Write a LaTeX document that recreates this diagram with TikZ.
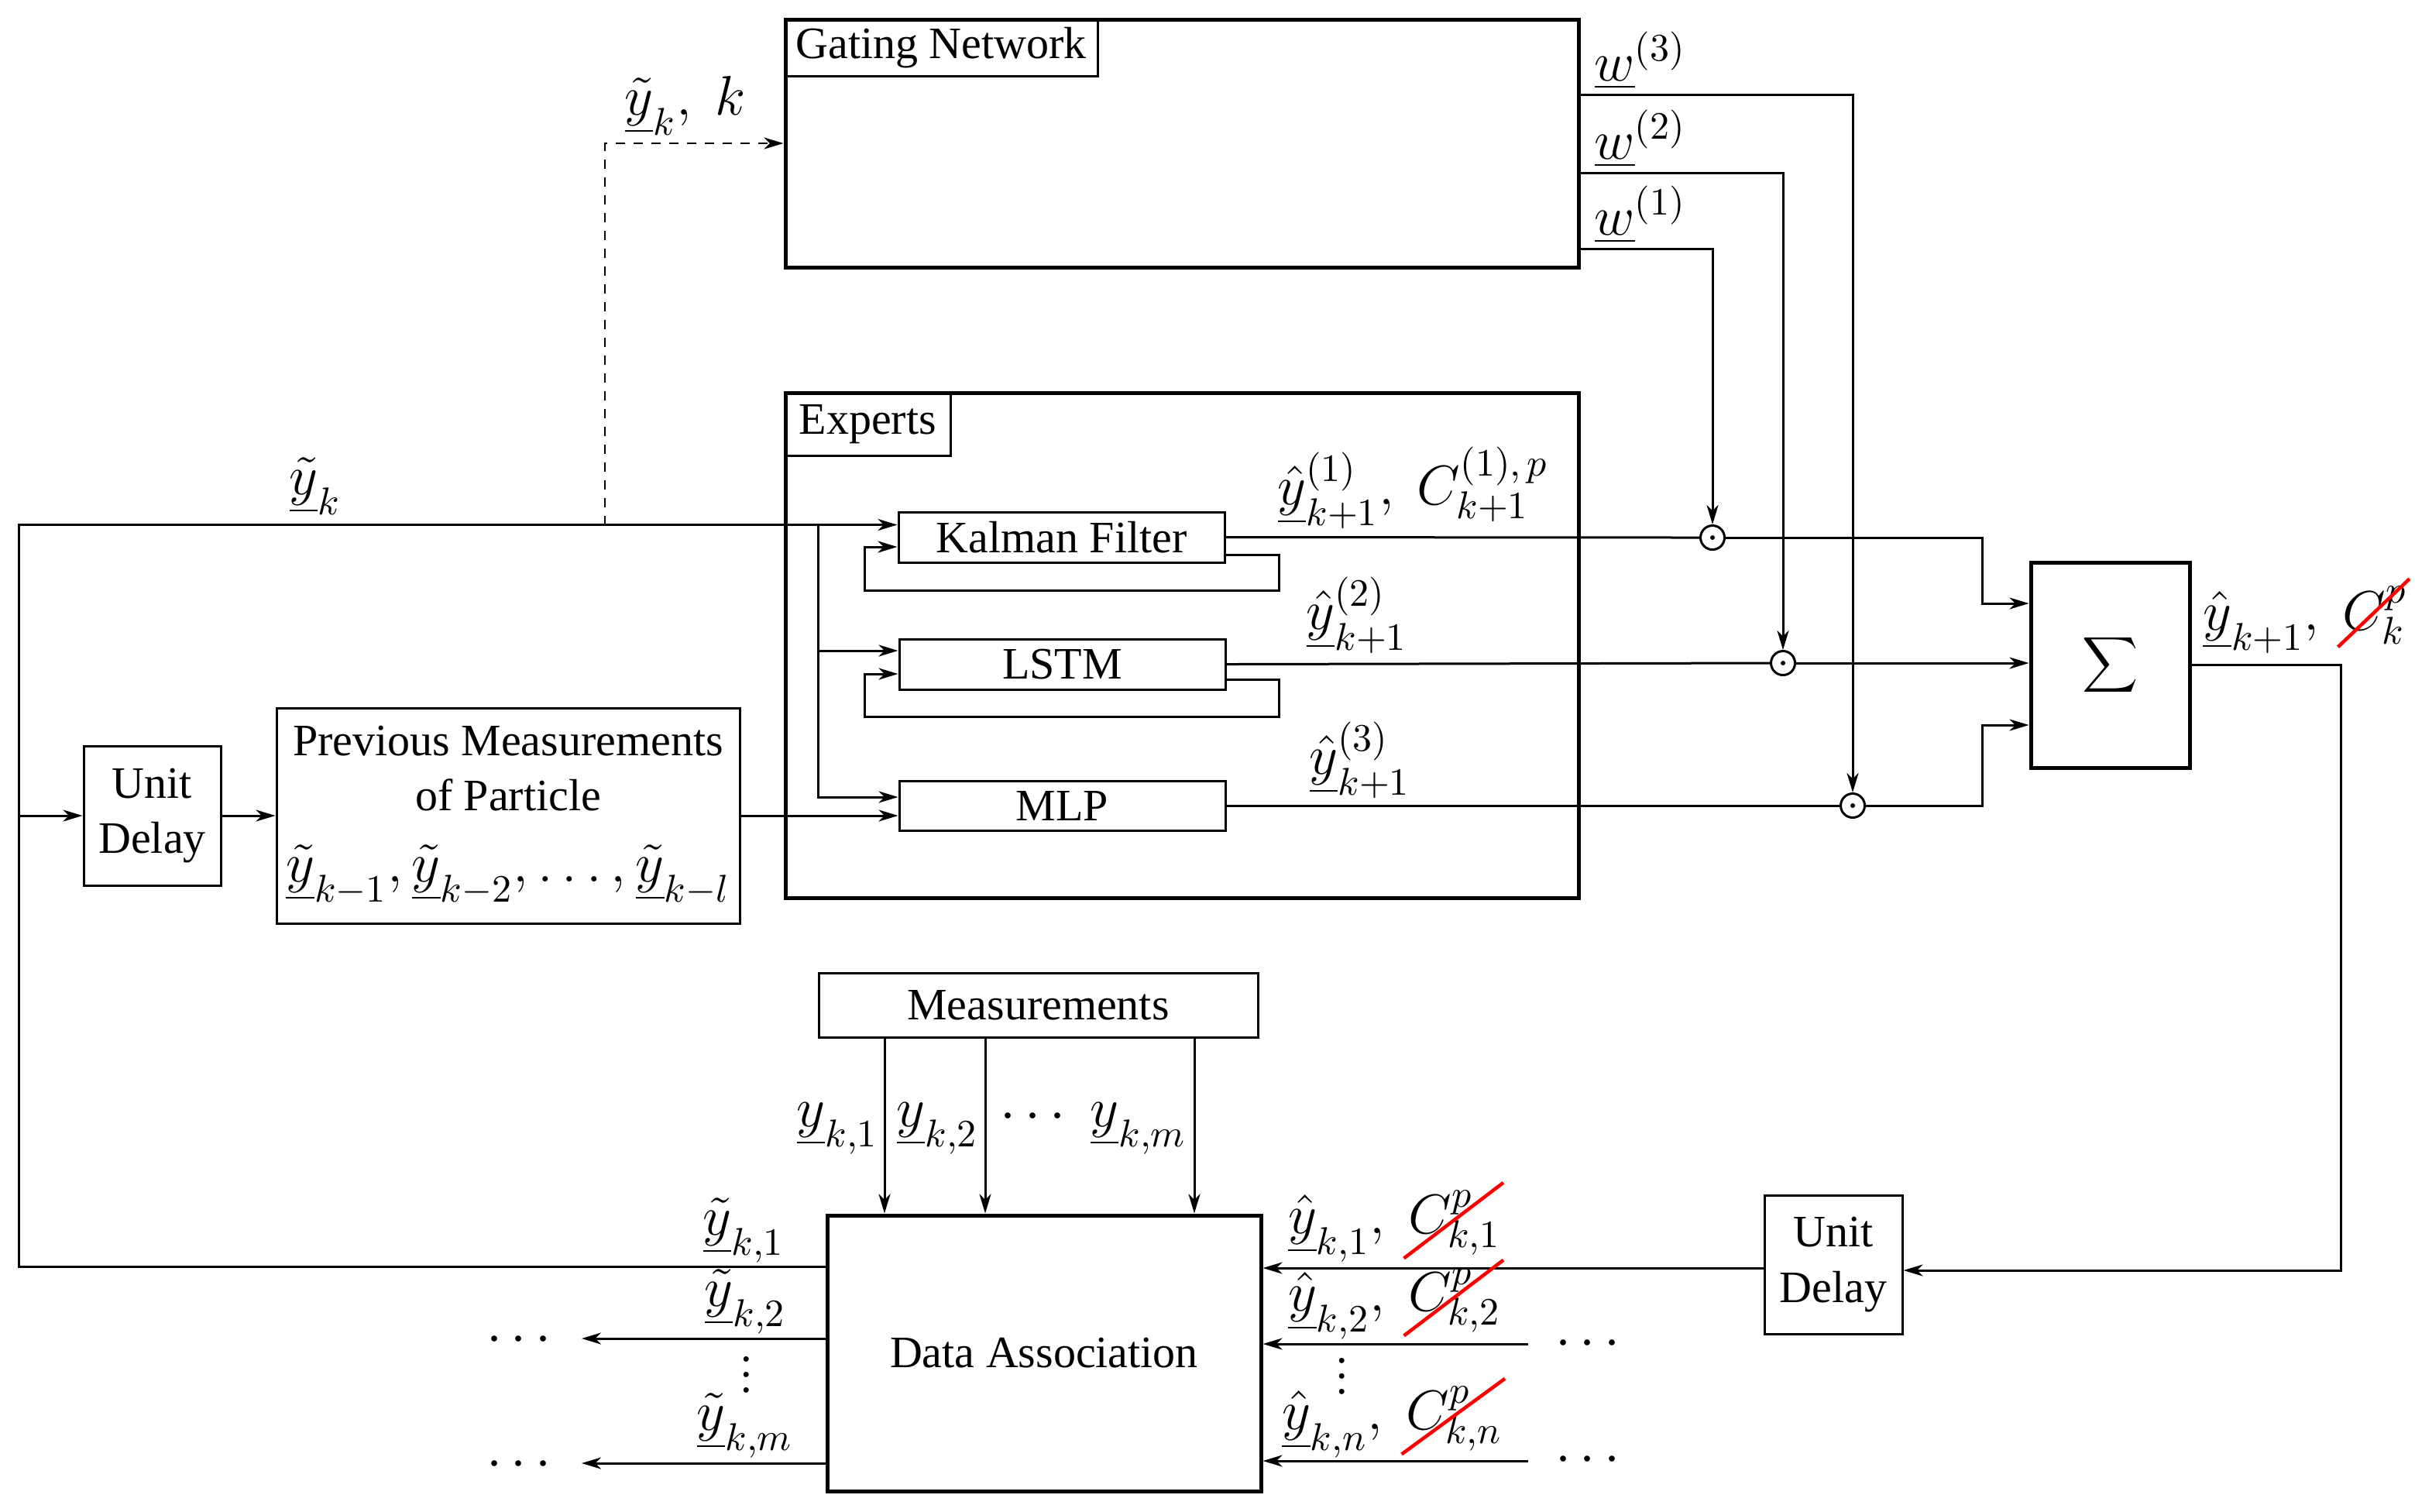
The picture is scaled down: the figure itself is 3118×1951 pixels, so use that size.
\documentclass[tikz,border=0pt]{standalone}
\usepackage[no-math]{fontspec}
\setmainfont{Liberation Serif}
\usetikzlibrary{arrows.meta}
\newcommand{\mathlbl}{\fontsize{14.4}{17}\selectfont}
\newcommand{\txtfont}{\fontsize{11.6}{14.3}\selectfont}
\newcommand{\redcancel}[1]{\tikz[baseline=(cc.base)]{\node[inner sep=0pt, outer sep=0pt] (cc) {$#1$};
  \draw[overlay, red, line width=0.9pt] ([shift={(-1.2pt,-0.8pt)}]cc.south west) -- ([shift={(0.6pt,2pt)}]cc.north east);}}
\begin{document}
\begin{tikzpicture}[x=0.2pt, y=-0.2pt,
  >={Stealth[length=5pt,width=3pt,inset=1.5pt]},
  line width=0.6pt,
  box/.style={draw, line width=0.6pt, inner sep=0pt, font=\txtfont, align=center},
  bigbox/.style={draw, line width=1pt, inner sep=0pt, font=\txtfont, align=center},
  lbl/.style={inner sep=0pt, font=\mathlbl, anchor=south west},
  dotsnode/.style={inner sep=0pt, font=\mathlbl},
  odot/.style={draw, circle, minimum size=6.2pt, inner sep=0pt, line width=0.6pt,
    path picture={\fill (path picture bounding box.center) circle (0.6pt);}},
  dashline/.style={line width=0.55pt, dash pattern=on 2.4pt off 2.2pt}]
\useasboundingbox (0,0) rectangle (3118,1951);

% boxes
\node[bigbox, minimum width=204.8pt, minimum height=64pt] (gate) at (1526,185) {};
\node[box, anchor=north west, minimum width=80.8pt, minimum height=14.8pt, line width=0.7pt] (gatelbl) at (gate.north west) {Gating Network};
\node[bigbox, minimum width=204.8pt, minimum height=130.4pt] (exp) at (1526,833) {};
\node[box, anchor=north west, minimum width=42.8pt, minimum height=16.4pt, line width=0.7pt] (explbl) at (exp.north west) {Experts};
\node[box, minimum width=84.2pt, minimum height=13pt] (kf) at (1370.5,693.5) {Kalman Filter};
\node[box, minimum width=84.2pt, minimum height=13pt] (lstm) at (1371.5,857.5) {LSTM};
\node[box, minimum width=84.2pt, minimum height=12.8pt] (mlp) at (1371.5,1040) {MLP};
\node[bigbox, minimum width=41pt, minimum height=53pt] (sum) at (2724.5,858.5) {\fontsize{12}{14}\selectfont$\displaystyle\sum$};
\node[box, minimum width=35.4pt, minimum height=36pt] (ud1) at (196.5,1053) {Unit\\Delay};
\node[box, minimum width=119.6pt, minimum height=55.6pt] (pm) at (656,1053)
  {Previous Measurements\\of Particle\\[4pt]{\mathlbl$\underline{\tilde y}_{k-1}, \underline{\tilde y}_{k-2}, \ldots, \underline{\tilde y}_{k-l}$}};
\node[box, minimum width=113.4pt, minimum height=16.6pt] (meas) at (1340.5,1297.5) {Measurements};
\node[bigbox, minimum width=112pt, minimum height=71.2pt] (da) at (1348,1747) {Data Association};
\node[box, minimum width=35.6pt, minimum height=35.8pt] (ud2) at (2367,1632.5) {Unit\\Delay};

\node[odot] (o1) at (2211,694) {};
\node[odot] (o2) at (2302,856) {};
\node[odot] (o3) at (2392,1040) {};

% helper coordinates
\coordinate (xl) at (24,0);
\coordinate (bx) at (1056,0);
\coordinate (dx) at (781,0);
\coordinate (kx) at (2559,0);
\coordinate (rx) at (3022,0);
\coordinate (kfin) at ([yshift=3.2pt]kf.west);
\coordinate (s1) at ([yshift=15.9pt]sum.west);
\coordinate (s3) at ([yshift=-15.5pt]sum.west);
\coordinate (u2i) at ([yshift=-1.5pt]ud2.east);
\coordinate (u2o) at ([yshift=-0.9pt]ud2.west);
\coordinate (r2) at (1973,1735);
\coordinate (r3) at (1973,1886);
\coordinate (l2) at (751,1728);
\coordinate (l3) at (751,1889);
\coordinate (m1) at (1142,0);
\coordinate (m2) at (1272,0);
\coordinate (m3) at (1542,0);

% input distribution
\draw[->] ([yshift=22.4pt]da.west) -| (kfin -| xl) -- (kfin);
\draw[->] (kfin -| bx) |- ([yshift=3.5pt]lstm.west);
\draw[->] (kfin -| bx) |- ([yshift=2.2pt]mlp.west);
\draw[->] (ud1.west -| xl) -- (ud1.west);
\draw[->] (ud1.east) -- (pm.west);
\draw[->] (pm.east) -- (pm.east -| mlp.west);
\draw[dashline,->] (kfin -| dx) |- (gate.west);

% feedback loops
\draw[->] ([yshift=-4.5pt]kf.east) -- ++(69,0) -- ++(0,46) -| ([xshift=-8.4pt,yshift=-2.5pt]kf.west) -- ([yshift=-2.5pt]kf.west);
\draw[->] ([yshift=-3.9pt]lstm.east) -- ++(68,0) -- ++(0,48) -| ([xshift=-8.6pt,yshift=-2.5pt]lstm.west) -- ([yshift=-2.5pt]lstm.west);

% gating weights
\draw[->] ([yshift=-27.2pt]gate.east) -| (o1.north);
\draw[->] ([yshift=-7.6pt]gate.east) -| (o2.north);
\draw[->] ([yshift=12.6pt]gate.east) -| (o3.north);

% expert outputs
\draw (kf.east) -- (o1.west);
\draw[->] (o1.east) -| (s1 -| kx) -- (s1);
\draw (lstm.east) -- (o2.west);
\draw[->] (o2.east) -- (o2.east -| sum.west);
\draw (mlp.east) -- (o3.west);
\draw[->] (o3.east) -| (s3 -| kx) -- (s3);

% output loop
\draw[->] (sum.east) -| (u2i -| rx) -- (u2i);
\draw[->] (u2o) -- (u2o -| da.east);
\draw[->] (r2) -- (r2 -| da.east);
\draw[->] (r3) -- (r3 -| da.east);
\draw[->] (l2 -| da.west) -- (l2);
\draw[->] (l3 -| da.west) -- (l3);

% measurements
\draw[->] (meas.south -| m1) -- (da.north -| m1);
\draw[->] (meas.south -| m2) -- (da.north -| m2);
\draw[->] (meas.south -| m3) -- (da.north -| m3);

% labels
\node[lbl] (lyk1) at (805,176) {$\underline{\tilde y}_k,\ k$};
\node[lbl] (lyk) at (372,666) {$\underline{\tilde y}_k$};
\node[lbl] (lw3) at (2057,116) {$\underline{w}^{(3)}$};
\node[lbl] (lw2) at (2057,217) {$\underline{w}^{(2)}$};
\node[lbl] (lw1) at (2057,315) {$\underline{w}^{(1)}$};
\node[lbl] (le1) at (1648,684) {$\underline{\hat y}^{(1)}_{k+1},\ C^{(1),\,p}_{k+1}$};
\node[lbl] (le2) at (1685,845) {$\underline{\hat y}^{(2)}_{k+1}$};
\node[lbl] (le3) at (1689,1032) {$\underline{\hat y}^{(3)}_{k+1}$};
\node[lbl] (lout) at (2843,845) {$\underline{\hat y}_{k+1},\ \redcancel{C^p_k}$};
\node[lbl] (lt1) at (906,1632) {$\underline{\tilde y}_{k,1}$};
\node[lbl] (lt2) at (908,1724) {$\underline{\tilde y}_{k,2}$};
\node[lbl] (lt3) at (898,1884) {$\underline{\tilde y}_{k,m}$};
\node[lbl] (lm1) at (1027,1492) {$\underline{y}_{k,1}$};
\node[lbl] (lm2) at (1156,1492) {$\underline{y}_{k,2}$};
\node[dotsnode, anchor=base west] (lmd) at (1290,1458) {$\cdots$};
\node[lbl] (lm3) at (1406,1492) {$\underline{y}_{k,m}$};
\node[lbl] (lh1) at (1662,1630) {$\underline{\hat y}_{k,1},\ \redcancel{C^p_{k,1}}$};
\node[lbl] (lh2) at (1662,1730) {$\underline{\hat y}_{k,2},\ \redcancel{C^p_{k,2}}$};
\node[lbl] (lh3) at (1654,1883) {$\underline{\hat y}_{k,n},\ \redcancel{C^p_{k,n}}$};

% dots
\node[dotsnode, anchor=base] (dl2) at (670,1746) {$\cdots$};
\node[dotsnode, anchor=base] (dl3) at (670,1907) {$\cdots$};
\node[dotsnode, anchor=base] (dr2) at (2050,1751) {$\cdots$};
\node[dotsnode, anchor=base] (dr3) at (2050,1901) {$\cdots$};
\node[inner sep=0pt, font=\txtfont, anchor=south] (vd1) at (964,1800) {$\vdots$};
\node[inner sep=0pt, font=\txtfont, anchor=south] (vd2) at (1733,1802) {$\vdots$};
\end{tikzpicture}
\end{document}
